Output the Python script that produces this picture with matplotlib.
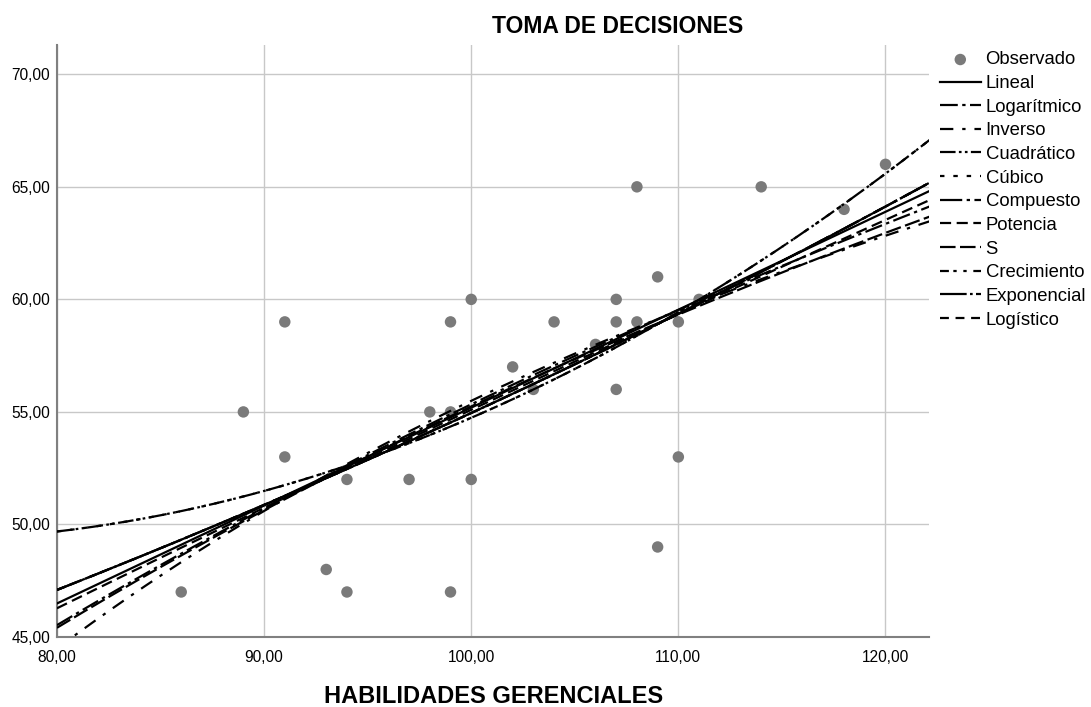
import matplotlib
matplotlib.use("Agg")
import matplotlib.pyplot as plt
import numpy as np

plt.rcParams['font.family'] = ['Liberation Sans', 'DejaVu Sans']

habilidades = [86, 89, 91, 91, 93, 94, 94, 97, 98, 99, 99, 99, 100, 100, 102, 103,
               104, 106, 107, 107, 107, 108, 108, 109, 109, 110, 110, 111, 114, 118, 120]
decisiones = [47, 55, 59, 53, 48, 52, 47, 52, 55, 59, 55, 47, 60, 52, 57, 56,
              59, 58, 60, 59, 56, 65, 59, 61, 49, 59, 53, 60, 65, 64, 66]

x_ticks = [80, 90, 100, 110, 120]
y_ticks = [45, 50, 55, 60, 65, 70]

x = np.array(habilidades, dtype=float)
y = np.array(decisiones, dtype=float)
xs = np.linspace(80, 122.2, 200)

# Curve estimation models (fitted to the observed points)
lin = np.polyfit(x, y, 1)
logm = np.polyfit(np.log(x), y, 1)
inv = np.polyfit(1 / x, y, 1)
quad = np.polyfit(x, y, 2)
comp = np.polyfit(x, np.log(y), 1)
powm = np.polyfit(np.log(x), np.log(y), 1)
sm = np.polyfit(1 / x, np.log(y), 1)

# the cubic term drops out (collinear), so cubic ends up equal to quadratic
curves = [
    ("Lineal", np.polyval(lin, xs), (None, None)),
    ("Logarítmico", np.polyval(logm, np.log(xs)), (8, 2, 1.5, 2)),
    ("Inverso", np.polyval(inv, 1 / xs), (6, 4, 1.5, 4)),
    ("Cuadrático", np.polyval(quad, xs), (7, 1.5, 1.2, 1.5, 1.2, 1.5)),
    ("Cúbico", np.polyval(quad, xs), (2, 4)),
    ("Compuesto", np.exp(np.polyval(comp, xs)), (10, 2, 1.5, 2)),
    ("Potencia", np.exp(np.polyval(powm, np.log(xs))), (5, 2.5)),
    ("S", np.exp(np.polyval(sm, 1 / xs)), (7, 2)),
    ("Crecimiento", np.exp(np.polyval(comp, xs)), (4, 2, 1.5, 3, 1.5, 3)),
    ("Exponencial", np.exp(np.polyval(comp, xs)), (12, 1.5, 1.2, 1.5)),
    ("Logístico", np.exp(np.polyval(comp, xs)), (4, 3)),
]

fig = plt.figure(figsize=(10.91, 7.07), dpi=100)
ax = fig.add_axes([0.0522, 0.099, 0.7993, 0.8373])

ax.grid(True, color="#c8c8c8", linewidth=1)
ax.set_axisbelow(True)

ax.scatter(x, y, s=68, color="#7a7a7a", edgecolors="none", zorder=2, label="Observado")
for name, vals, dash in curves:
    if dash[0] is None:
        ax.plot(xs, vals, color="black", linewidth=1.6, label=name, zorder=3)
    else:
        ax.plot(xs, vals, color="black", linewidth=1.6, dashes=dash, label=name, zorder=3)

ax.set_xlim(80, 122.1)
ax.set_ylim(45, 71.3)
ax.set_xticks(x_ticks)
ax.set_yticks(y_ticks)
ax.set_xticklabels([f"{v:.2f}".replace(".", ",") for v in x_ticks], fontsize=11.2)
ax.set_yticklabels([f"{v:.2f}".replace(".", ",") for v in y_ticks], fontsize=11.2)
ax.tick_params(axis="y", length=0, pad=5)
ax.tick_params(axis="x", length=0, pad=9)

for s in ["top", "right"]:
    ax.spines[s].set_visible(False)
for s in ["left", "bottom"]:
    ax.spines[s].set_color("#808080")
    ax.spines[s].set_linewidth(1.5)

fig.text(0.566, 0.962, "TOMA DE DECISIONES", ha="center", va="center",
         fontsize=16.5, fontweight="bold")
fig.text(0.4528, 0.005, "HABILIDADES GERENCIALES", ha="center", va="baseline",
         fontsize=17, fontweight="bold")

ax.legend(loc="upper left", bbox_to_anchor=(0.8548, 0.9378), bbox_transform=fig.transFigure,
          frameon=False, fontsize=13.3, handlelength=2.2, handletextpad=0.27,
          labelspacing=0.36, borderaxespad=0)

fig.savefig("out.png", dpi=100)
